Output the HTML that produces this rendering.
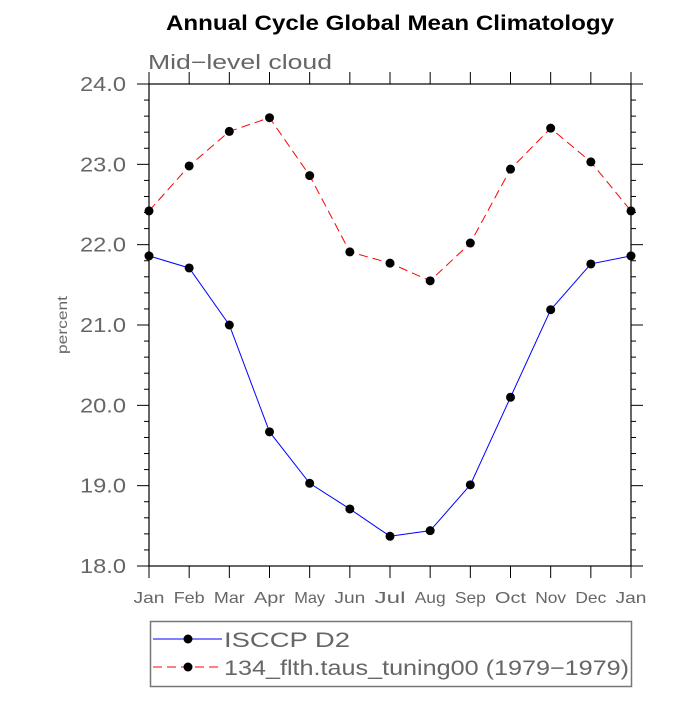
<!DOCTYPE html>
<html><head><meta charset="utf-8"><style>
body{margin:0;background:#fff;}
svg text{font-family:"Liberation Sans",sans-serif;}
</style></head><body>
<svg width="700" height="700" viewBox="0 0 700 700">
<text x="166" y="30" font-size="21" font-weight="bold" fill="#000" textLength="448" lengthAdjust="spacingAndGlyphs">Annual Cycle Global Mean Climatology</text>
<text x="148" y="69" font-size="20" fill="#666" textLength="184" lengthAdjust="spacingAndGlyphs">Mid−level cloud</text>
<text transform="translate(67,325) rotate(-90)" text-anchor="middle" font-size="14" fill="#666" textLength="58" lengthAdjust="spacingAndGlyphs">percent</text>
<g id="axes"></g>
<g id="series"></g>
<g>
<rect x="150.5" y="621.5" width="481" height="65" fill="none" stroke="#777" stroke-width="1.5"/>
<g>
<line x1="153" y1="639" x2="222" y2="639" stroke="#00f" stroke-width="1"/>
<circle cx="188" cy="639" r="4.5" fill="#000"/>
<text x="224" y="647" font-size="21" fill="#666" textLength="126" lengthAdjust="spacingAndGlyphs">ISCCP D2</text></g>
<g>
<line x1="153" y1="667" x2="222" y2="667" stroke="#f00" stroke-width="1" stroke-dasharray="9,5"/>
<circle cx="188" cy="667" r="4.5" fill="#000"/>
<text x="224" y="675" font-size="21" fill="#666" textLength="405" lengthAdjust="spacingAndGlyphs">134_flth.taus_tuning00 (1979−1979)</text></g>
</g>
</svg>
<script>
const months=["Jan","Feb","Mar","Apr","May","Jun","Jul","Aug","Sep","Oct","Nov","Dec","Jan"];
const isccp=[21.86,21.71,21.0,19.67,19.03,18.71,18.37,18.44,19.01,20.1,21.19,21.76,21.86];
const model=[22.42,22.98,23.41,23.58,22.86,21.91,21.77,21.55,22.02,22.94,23.45,23.03,22.42];
const yTicks=["18.0","19.0","20.0","21.0","22.0","23.0","24.0"];
const L=149,R=631,T=84,B=566,ymin=18,ymax=24;
const NS="http://www.w3.org/2000/svg";
const xs=i=>L+(R-L)*i/(months.length-1);
const ys=v=>B-(B-T)*(v-ymin)/(ymax-ymin);
function mk(tag,at,parent){const e=document.createElementNS(NS,tag);for(const k in at)e.setAttribute(k,at[k]);parent.appendChild(e);return e;}
const ax=document.getElementById('axes');
const fr=mk('rect',{x:L,y:T,width:R-L,height:B-T,fill:'none',stroke:'#000','stroke-width':1.2},ax);


months.forEach((m,i)=>{const x=xs(i);
 mk('line',{x1:x,y1:B,x2:x,y2:B+12,stroke:'#000','stroke-width':1},ax);
 mk('line',{x1:x,y1:T,x2:x,y2:T-12,stroke:'#000','stroke-width':1},ax);
 const t=mk('text',{x:x,y:B+37,'text-anchor':'middle','font-size':16,fill:'#666',textLength:m.length*10.3,lengthAdjust:'spacingAndGlyphs'},ax);t.textContent=m;
 
 
});
for(let v=ymin;v<=ymax+1e-9;v+=0.2){const y=ys(v);const maj=Math.abs(v-Math.round(v))<1e-6;const len=maj?12:5;
 mk('line',{x1:L,y1:y,x2:L-len,y2:y,stroke:'#000','stroke-width':1},ax);
 mk('line',{x1:R,y1:y,x2:R+len,y2:y,stroke:'#000','stroke-width':1},ax);}
yTicks.forEach(s=>{const y=ys(parseFloat(s));const t=mk('text',{x:126,y:y+7,'text-anchor':'end','font-size':20,fill:'#666',textLength:46,lengthAdjust:'spacingAndGlyphs'},ax);t.textContent=s;
 
 });
const sg=document.getElementById('series');
function series(vals,color,dash,name){
 const p=mk('polyline',{points:vals.map((v,i)=>xs(i)+','+ys(v)).join(' '),fill:'none',stroke:color,'stroke-width':1,'stroke-dasharray':dash},sg);
 
 
 vals.forEach((v,i)=>{const c=mk('circle',{cx:xs(i),cy:ys(v),r:4.5,fill:'#000'},sg);
  
  });
}
series(isccp,'#00f','none','isccp');
series(model,'#f00','9,5','model');
</script>
</body></html>
